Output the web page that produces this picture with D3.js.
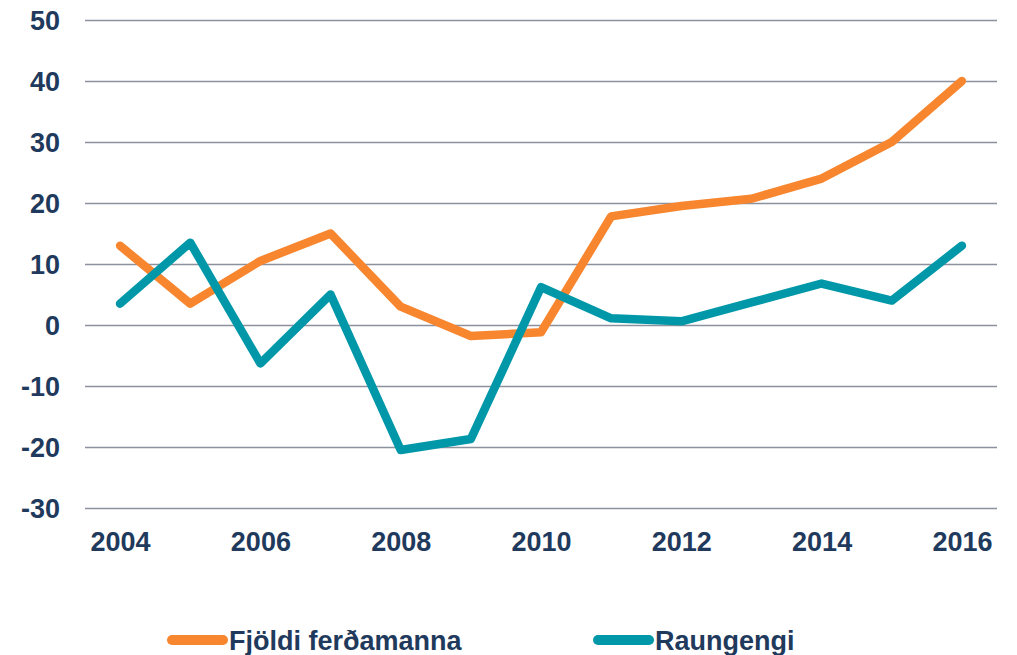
<!DOCTYPE html>
<html>
<head>
<meta charset="utf-8">
<script src="https://cdn.jsdelivr.net/npm/d3@7"></script>
<style>
  body { margin: 0; background: #fff; }
  text { font-family: "Liberation Sans", Arial, sans-serif; font-weight: bold; fill: #1f3a5c; }
</style>
</head>
<body>
<div id="chart-area"></div>
<script>
// data
var years = [2004, 2005, 2006, 2007, 2008, 2009, 2010, 2011, 2012, 2013, 2014, 2015, 2016];
var tourists = [13, 3.5, 10.5, 15, 3, -1.8, -1.2, 17.8, 19.5, 20.7, 24, 30, 40];
var realRate = [3.5, 13.5, -6.3, 5, -20.5, -18.7, 6.2, 1.1, 0.6, 3.7, 6.8, 4, 13];
var yTicks = [-30, -20, -10, 0, 10, 20, 30, 40, 50];
var xLabels = [2004, 2006, 2008, 2010, 2012, 2014, 2016];
var seriesNames = ["Fjöldi ferðamanna", "Raungengi"];
var seriesColors = ["#f7862f", "#0098a8"];

var width = 1017, height = 655;
var margins = { left: 85, right: 997, top: 20, bottom: 508 };

var svg = d3.select("#chart-area")
  .append("svg")
  .attr("width", width)
  .attr("height", height);

var x = d3.scalePoint()
  .domain(years)
  .range([margins.left, margins.right])
  .padding(0.5);

var y = d3.scaleLinear()
  .domain([-30, 50])
  .range([margins.bottom, margins.top]);

// gridlines + y labels (plain hyphen for negatives, like the original)
var yAxis = svg.append("g")
  .attr("transform", "translate(" + margins.left + ",0)")
  .call(d3.axisLeft(y)
    .tickValues(yTicks)
    .tickFormat(function(d) { return String(d); })
    .tickSize(-(margins.right - margins.left))
    .tickPadding(25));
yAxis.select(".domain").remove();
yAxis.selectAll(".tick line").attr("stroke", "#8c919e").attr("stroke-width", 1.5);
yAxis.selectAll(".tick text").style("font-size", "27px").attr("dy", "0.35em");

// x labels
var xAxis = svg.append("g")
  .attr("transform", "translate(0," + margins.bottom + ")")
  .call(d3.axisBottom(x).tickValues(xLabels).tickSize(0).tickPadding(24));
xAxis.select(".domain").remove();
xAxis.selectAll(".tick text").style("font-size", "27px");

var line = d3.line()
  .x(function(d, i) { return x(years[i]); })
  .y(function(d) { return y(d); });

[tourists, realRate].forEach(function(s, i) {
  svg.append("path")
    .datum(s)
    .attr("fill", "none")
    .attr("stroke", seriesColors[i])
    .attr("stroke-width", 8.5)
    .attr("stroke-linejoin", "round")
    .attr("stroke-linecap", "round")
    .attr("d", line);
});

// legend
var legendX = [172, 598];
var legend = svg.append("g");
seriesNames.forEach(function(name, i) {
  legend.append("line")
    .attr("x1", legendX[i]).attr("x2", legendX[i] + 51)
    .attr("y1", 640).attr("y2", 640)
    .attr("stroke", seriesColors[i])
    .attr("stroke-width", 10)
    .attr("stroke-linecap", "round");
  legend.append("text")
    .attr("x", legendX[i] + 57)
    .attr("y", 650)
    .style("font-size", "27px")
    .text(name);
});
</script>
</body>
</html>
